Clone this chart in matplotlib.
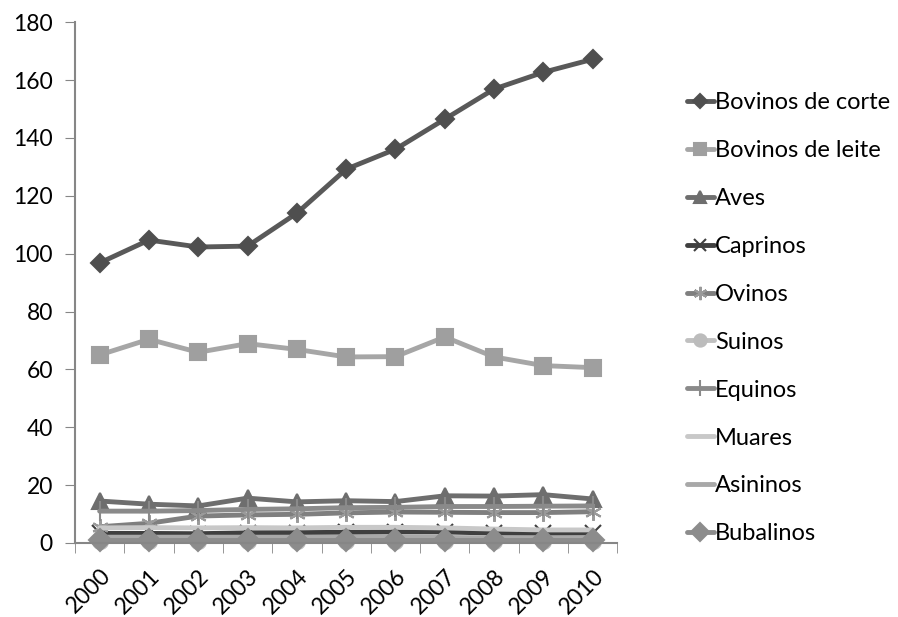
import matplotlib.pyplot as plt

years = ['2000', '2001', '2002', '2003', '2004', '2005', '2006', '2007', '2008', '2009', '2010']

bovinos_corte = [96.8, 104.7, 102.3, 102.6, 114.0, 129.2, 136.1, 146.5, 156.9, 162.7, 167.2]
bovinos_leite = [65.0, 70.4, 65.9, 68.9, 66.9, 64.3, 64.4, 71.2, 64.3, 61.3, 60.6]
aves = [14.5, 13.4, 12.8, 15.5, 14.2, 14.6, 14.3, 16.3, 16.2, 16.7, 15.2]
caprinos = [3.3, 3.3, 3.2, 3.5, 3.6, 3.7, 3.8, 3.8, 3.4, 3.3, 3.4]
ovinos = [5.6, 6.8, 9.3, 9.7, 9.9, 10.4, 10.7, 10.6, 10.5, 10.5, 10.8]
suinos = [0.6, 0.6, 0.6, 0.6, 0.6, 0.6, 0.6, 0.6, 0.6, 0.6, 0.6]
equinos = [11.0, 11.0, 11.2, 11.6, 11.8, 12.2, 12.3, 12.6, 12.6, 12.7, 12.8]
muares = [5.2, 5.3, 5.2, 5.3, 5.2, 5.4, 5.4, 5.2, 4.8, 4.5, 4.5]
asininos = [2.0, 2.0, 2.0, 2.0, 2.0, 2.0, 2.0, 1.9, 1.8, 1.8, 1.8]
bubalinos = [1.0, 1.0, 1.0, 1.0, 1.0, 1.0, 1.0, 1.0, 1.0, 1.0, 1.0]

plt.rcParams['font.family'] = ['Lato', 'DejaVu Sans']

fig = plt.figure(figsize=(8.98, 6.17), dpi=100)
ax = fig.add_axes([0.0835, 0.12, 0.604, 0.844])

x = range(len(years))
lw = 3.5

# series: label, data, line colour, marker, marker colour, marker size
series = [
    ('Bovinos de corte', bovinos_corte, '#595959', 'D', '#4f4f4f', 9),
    ('Bovinos de leite', bovinos_leite, '#a6a6a6', 's', '#9f9f9f', 11),
    ('Aves', aves, '#6e6e6e', '^', '#6e6e6e', 11),
    ('Caprinos', caprinos, '#3f3f3f', 'x', '#3f3f3f', 11),
    ('Ovinos', ovinos, '#7f7f7f', (6, 2, 0), '#9a9a9a', 12),
    ('Suinos', suinos, '#c0c0c0', 'o', '#bcbcbc', 11),
    ('Equinos', equinos, '#8a8a8a', '|', '#8a8a8a', 14),
    ('Muares', muares, '#c8c8c8', 'None', '#c8c8c8', 0),
    ('Asininos', asininos, '#a8a8a8', 'None', '#a8a8a8', 0),
    ('Bubalinos', bubalinos, '#8c8c8c', 'D', '#8c8c8c', 11),
]

handles = []
for label, data, col, mk, mcol, ms in series:
    h, = ax.plot(x, data, color=col, lw=lw, marker=mk, ms=ms,
                 mec=mcol, mfc=mcol, mew=1.5, label=label,
                 solid_capstyle='round')
    h.set_clip_on(False)
    handles.append(h)

ax.set_xlim(-0.5, len(years) - 0.5)
ax.set_ylim(0, 180)
ax.set_yticks(range(0, 181, 20))
ax.tick_params(axis='y', labelsize=16.5, length=7, color='#868686', direction='out', pad=9)

ax.set_xticks([i - 0.5 for i in range(len(years) + 1)], minor=True)
ax.set_xticks(list(x))
ax.set_xticklabels(years, rotation=45, ha='right', rotation_mode='anchor')
ax.tick_params(axis='x', which='major', length=0, labelsize=16.5, pad=16)
ax.tick_params(axis='x', which='minor', length=7, color='#868686', direction='out')

for s in ['top', 'right']:
    ax.spines[s].set_visible(False)
for s in ['left', 'bottom']:
    ax.spines[s].set_color('#868686')
    ax.spines[s].set_linewidth(1.5)

leg = fig.legend(handles=handles, loc='upper left', bbox_to_anchor=(0.754, 0.866),
                 frameon=False, fontsize=17, handlelength=1.15, handletextpad=0.05,
                 labelspacing=1.14, borderaxespad=0, markerscale=0.8)

fig.savefig('out.png', dpi=100)
